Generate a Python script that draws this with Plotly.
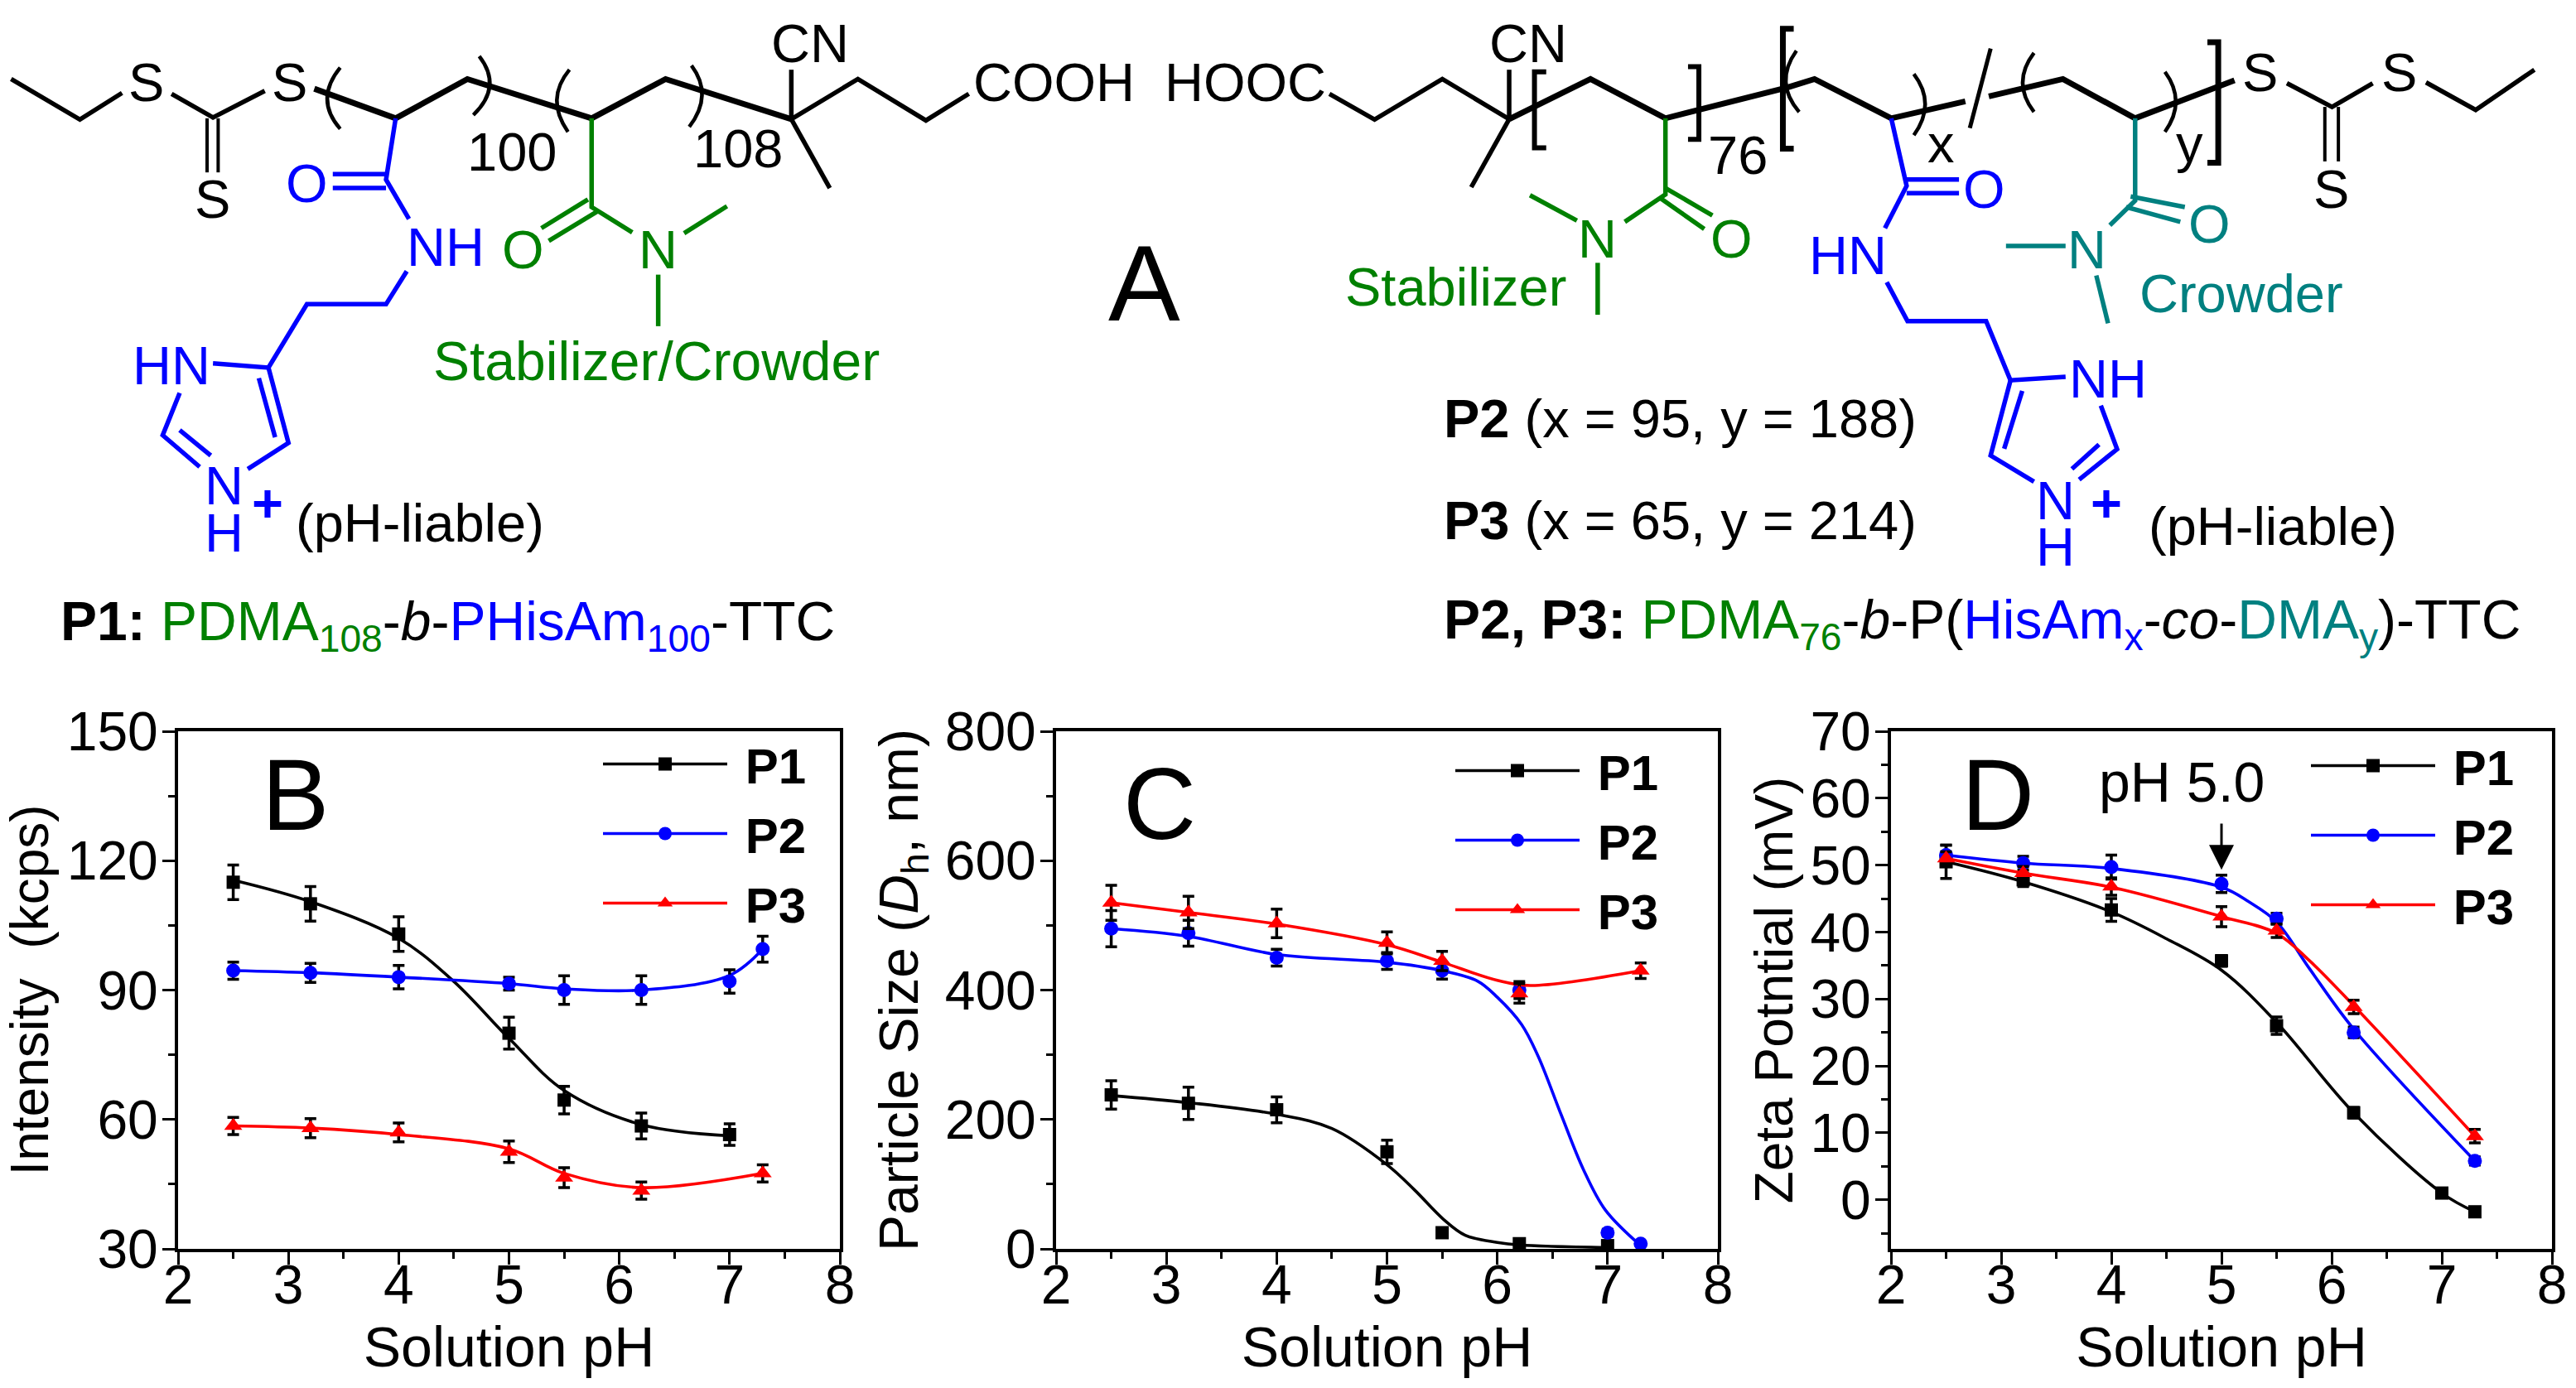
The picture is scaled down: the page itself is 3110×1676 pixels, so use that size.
import plotly.graph_objects as go

W, H = 3110, 1676
FONT = "Liberation Sans"
BLACK, BLUE, RED, GREEN, TEAL = "#000000", "#0000ff", "#ff0000", "#008000", "#008080"

# ---------- panel B: intensity ----------
b_p1_ph = [2.5, 3.2, 4, 5, 5.5, 6.2, 7]
b_p1_val = [115, 110, 103, 80, 64.5, 58.5, 56.5]
b_p1_err = [4, 4, 4, 3.7, 3.2, 3, 2.5]
b_p1_fit_ph = [2.5, 3.2, 4, 4.5, 5, 5.5, 6.2, 7]
b_p1_fit = [115.5, 110.5, 102, 92, 78.8, 66.7, 58.8, 56.2]
b_p2_ph = [2.5, 3.2, 4, 5, 5.5, 6.2, 7, 7.3]
b_p2_val = [94.5, 94, 93, 91.5, 90, 90, 92, 99.5]
b_p2_err = [2, 2.2, 2.7, 1.5, 3.3, 3.3, 2.7, 3]
b_p2_fit = [94.5, 94, 93, 91.5, 90.3, 90, 93.4, 99.5]
b_p3_ph = [2.5, 3.2, 4, 5, 5.5, 6.2, 7.3]
b_p3_val = [58.5, 58, 57, 52.5, 46.5, 43.5, 47.5]
b_p3_err = [2, 2.2, 2.2, 2.5, 2.3, 2, 2]
b_p3_fit_ph = [2.5, 3.2, 4, 5, 5.5, 6.2, 7.3]
b_p3_fit = [58.5, 58, 56.5, 53.2, 47.5, 44.2, 47.5]

# ---------- panel C: particle size ----------
c_p1_ph = [2.5, 3.2, 4, 5, 5.5, 6.2, 7]
c_p1_val = [238, 225, 215, 150, 25, 8, 5]
c_p1_err = [22, 25, 20, 18, 5, 3, 3]
c_p1_fit_ph = [2.5, 3.2, 4, 4.5, 5, 5.25, 5.51, 5.71, 6, 6.2, 7]
c_p1_fit = [237, 226, 208, 186, 130, 91, 46, 21, 10, 6, 2]
c_p2_ph = [2.5, 3.2, 4, 5, 5.5, 6.2, 7, 7.3]
c_p2_val = [495, 488, 450, 445, 430, 400, 25, 8]
c_p2_err = [28, 20, 13, 13, 13, 13, 5, 3]
c_p2_fit_ph = [2.5, 3.2, 4, 5, 5.5, 5.82, 6, 6.22, 6.37, 6.58, 6.78, 6.98, 7.3]
c_p2_fit = [495, 483, 455, 443, 430, 414, 389, 347, 298, 207, 123, 60, 5]
c_p3_ph = [2.5, 3.2, 4, 5, 5.5, 6.2, 7.3]
c_p3_val = [535, 520, 503, 473, 445, 395, 430]
c_p3_err = [27, 25, 22, 17, 15, 15, 12]
c_p3_fit_ph = [2.5, 3.2, 4, 5, 5.5, 6, 6.3, 7.3]
c_p3_fit = [535, 520, 502, 470, 443, 415, 407, 430]

# ---------- panel D: zeta potential ----------
d_p1_ph = [2.5, 3.2, 4, 5, 5.5, 6.2, 7, 7.3]
d_p1_val = [50.5, 47.8, 43.3, 35.7, 26, 13, 1, -1.8]
d_p1_err = [2.5, 1, 1.7, 0.8, 1.3, 0.8, 0.5, 0.5]
d_p1_fit_ph = [2.5, 3.2, 4, 4.5, 5, 5.5, 6.2, 7, 7.3]
d_p1_fit = [50.5, 47.5, 43, 39, 34.3, 26.5, 13, 1, -1.8]
d_p2_ph = [2.5, 3.2, 4, 5, 5.5, 6.2, 7.3]
d_p2_val = [51.5, 50.3, 49.7, 47.2, 42, 25, 5.8]
d_p2_err = [1.5, 1, 1.8, 1.3, 0.8, 0.8, 0.6]
d_p2_fit_ph = [2.5, 3.2, 4, 5, 5.25, 5.5, 5.8, 6.2, 7.3]
d_p2_fit = [51.5, 50.3, 49.5, 46.7, 44.5, 41.5, 34.5, 25.5, 5.8]
d_p3_ph = [2.5, 3.2, 4, 5, 5.5, 6.2, 7.3]
d_p3_val = [51, 48.8, 46.8, 42.3, 40.2, 28.8, 9.5]
d_p3_err = [1, 1, 1.3, 1.5, 1, 1, 1]
d_p3_fit_ph = [2.5, 3.2, 4, 5, 5.5, 5.8, 6.2, 7.3]
d_p3_fit = [51, 48.8, 46.7, 42.3, 39.8, 35.7, 29, 9.5]

tick_ph = [2, 3, 4, 5, 6, 7, 8]
series_names = ["P1", "P2", "P3"]
symbols = ["square", "circle", "triangle-up"]
sizes = [16, 17, 19]
colors = [BLACK, BLUE, RED]


def px(x, y):
    return x / W, 1 - y / H


# Panel rectangles in the picture (left, right, top, bottom)
RECTS = {"": (215, 1014), "2": (1275, 2074), "3": (2283, 3081)}
TOP, BOTTOM = 883, 1508

panels = [
    dict(ax="", legend="legend", legend_x=723, legend_top=877,
         series=[(b_p1_ph, b_p1_val, b_p1_err, b_p1_fit_ph, b_p1_fit),
                 (b_p2_ph, b_p2_val, b_p2_err, b_p2_ph, b_p2_fit),
                 (b_p3_ph, b_p3_val, b_p3_err, b_p3_fit_ph, b_p3_fit)]),
    dict(ax="2", legend="legend2", legend_x=1752, legend_top=885,
         series=[(c_p1_ph, c_p1_val, c_p1_err, c_p1_fit_ph, c_p1_fit),
                 (c_p2_ph, c_p2_val, c_p2_err, c_p2_fit_ph, c_p2_fit),
                 (c_p3_ph, c_p3_val, c_p3_err, c_p3_fit_ph, c_p3_fit)]),
    dict(ax="3", legend="legend3", legend_x=2785, legend_top=879,
         series=[(d_p1_ph, d_p1_val, d_p1_err, d_p1_fit_ph, d_p1_fit),
                 (d_p2_ph, d_p2_val, d_p2_err, d_p2_fit_ph, d_p2_fit),
                 (d_p3_ph, d_p3_val, d_p3_err, d_p3_fit_ph, d_p3_fit)]),
]

fig = go.Figure()
for p in panels:
    xa, ya = "x" + p["ax"], "y" + p["ax"]
    for i, (ph, val, err, fph, fit) in enumerate(p["series"]):
        name, col, sym, sz = series_names[i], colors[i], symbols[i], sizes[i]
        group = f"{p['legend']}-{name}"
        fig.add_trace(go.Scatter(
            x=fph, y=fit, mode="lines", xaxis=xa, yaxis=ya,
            line=dict(color=col, width=3.6, shape="spline", smoothing=1),
            legendgroup=group, showlegend=False, hoverinfo="skip"))
        fig.add_trace(go.Scatter(
            x=ph, y=val, mode="markers", xaxis=xa, yaxis=ya, name=name,
            marker=dict(color=col, symbol=sym, size=sz),
            error_y=dict(type="data", array=err, visible=True, color=BLACK,
                         thickness=3.5, width=7),
            legendgroup=group, showlegend=False))
        # legend key (line + marker)
        fig.add_trace(go.Scatter(
            x=[None], y=[None], mode="lines+markers", xaxis=xa, yaxis=ya,
            name=f"\u00a0<b>{name}</b>", legend=p["legend"], legendgroup=group,
            line=dict(color=col, width=3.6),
            marker=dict(color=col, symbol=sym, size=sz), showlegend=True))


def axis_common():
    return dict(showline=True, linecolor=BLACK, linewidth=4, mirror=True, automargin=False,
                ticks="outside", ticklen=15, tickwidth=3, tickcolor=BLACK,
                showgrid=False, zeroline=False,
                tickfont=dict(family=FONT, size=66, color=BLACK))


layout = dict(template="none", width=W, height=H, margin=dict(l=0, r=0, t=0, b=0), autosize=False,
              paper_bgcolor="#ffffff", plot_bgcolor="#ffffff",
              font=dict(family=FONT, color=BLACK), hovermode=False)

y_specs = {
    "": dict(range=[30, 150], tickvals=[30, 60, 90, 120, 150], minor=15,
             title="Intensity  (kcps)", standoff=8, size=64),
    "2": dict(range=[0, 800], tickvals=[0, 200, 400, 600, 800], minor=100,
              title="Particle Size (<i>D</i><sub>h</sub>, nm)", standoff=12, size=66),
    "3": dict(range=[-7.34, 70], tickvals=[0, 10, 20, 30, 40, 50, 60, 70], minor=5,
              title="Zeta Potntial (mV)", standoff=1, size=64),
}
for k, (l, r) in RECTS.items():
    spec = y_specs[k]
    xname, yname = "xaxis" + k, "yaxis" + k
    layout[xname] = dict(axis_common(), domain=[l / W, r / W], range=[2, 8],
                         tickvals=tick_ph, anchor="y" + k, ticklabelstandoff=-32,
                         minor=dict(ticks="outside", ticklen=8, tickwidth=3,
                                    tickcolor=BLACK, dtick=0.5, tick0=2),
                         title=dict(text="Solution pH", standoff=9,
                                    font=dict(family=FONT, size=68, color=BLACK)))
    layout[yname] = dict(axis_common(), domain=[1 - BOTTOM / H, 1 - TOP / H],
                         range=spec["range"], tickvals=spec["tickvals"], anchor="x" + k,
                         ticklabelstandoff=-8,
                         minor=dict(ticks="outside", ticklen=8, tickwidth=3,
                                    tickcolor=BLACK, dtick=spec["minor"], tick0=0),
                         title=dict(text=spec["title"], standoff=spec["standoff"],
                                    font=dict(family=FONT, size=spec["size"], color=BLACK)))

for p in panels:
    lx, ly = px(p["legend_x"], p["legend_top"])
    layout[p["legend"]] = dict(x=lx, y=ly, xanchor="left", yanchor="top",
                               bgcolor="rgba(0,0,0,0)", borderwidth=0,
                               itemwidth=150, tracegroupgap=3, itemclick=False,
                               itemdoubleclick=False,
                               font=dict(family=FONT, size=60, color=BLACK))

# ---------- chemical structure drawing (picture pixels) ----------
def z1(x, y):
    return x / 1.12, y / 1.96


def z2(x, y):
    return 1400 + x / 0.917, y / 1.96


shapes = []


def bond(conv, pts, color=BLACK, width=5.5):
    d = ""
    for i, (x, y) in enumerate(pts):
        fx, fy = px(*conv(x, y))
        d += f"{'M' if i == 0 else 'L'} {fx:.5f} {fy:.5f} "
    shapes.append(dict(type="path", path=d, xref="paper", yref="paper",
                       line=dict(color=color, width=width), layer="above"))


def arc(conv, a, c, b, color=BLACK, width=4.5):
    pts = [px(*conv(*q)) for q in (a, c, b)]
    d = f"M {pts[0][0]:.5f} {pts[0][1]:.5f} Q {pts[1][0]:.5f} {pts[1][1]:.5f} {pts[2][0]:.5f} {pts[2][1]:.5f}"
    shapes.append(dict(type="path", path=d, xref="paper", yref="paper",
                       line=dict(color=color, width=width), layer="above"))


# left structure
bond(z1, [(15, 187), (108, 283), (165, 220)])
bond(z1, [(232, 222), (288, 278), (358, 215)])
bond(z1, [(280, 280), (280, 408)], width=4)
bond(z1, [(295, 280), (295, 408)], width=4)
bond(z1, [(425, 210), (535, 280), (632, 187), (800, 280), (900, 187), (1070, 282)], width=7)
bond(z1, [(1070, 282), (1160, 187), (1252, 285), (1310, 222)])
bond(z1, [(1070, 282), (1070, 165)])
bond(z1, [(1070, 282), (1122, 445)])
arc(z1, (460, 160), (425, 235), (460, 305))
arc(z1, (648, 133), (680, 205), (640, 272))
arc(z1, (770, 165), (737, 235), (768, 312))
arc(z1, (935, 155), (965, 225), (932, 300))
bond(z1, [(535, 280), (522, 425), (553, 518)], BLUE)
bond(z1, [(450, 412), (522, 412)], BLUE)
bond(z1, [(450, 445), (522, 445)], BLUE)
bond(z1, [(550, 642), (522, 720), (415, 720), (363, 870), (288, 860)], BLUE)
bond(z1, [(363, 870), (390, 1048), (335, 1110)], BLUE)
bond(z1, [(350, 895), (372, 1035)], BLUE)
bond(z1, [(243, 930), (220, 1030), (270, 1105)], BLUE)
bond(z1, [(243, 1018), (285, 1078)], BLUE)
bond(z1, [(800, 280), (800, 490), (855, 550)], GREEN)
bond(z1, [(795, 472), (732, 540)], GREEN)
bond(z1, [(808, 500), (742, 570)], GREEN)
bond(z1, [(925, 552), (983, 488)], GREEN)
bond(z1, [(890, 650), (890, 772)], GREEN)

# right structure
bond(z2, [(188, 222), (238, 283), (313, 187), (387, 282)])
bond(z2, [(387, 282), (477, 187), (560, 280), (695, 207), (725, 187), (810, 280), (892, 240)], width=7)
bond(z2, [(918, 228), (1000, 187), (1080, 280), (1190, 190)], width=7)
bond(z2, [(1248, 197), (1298, 253), (1343, 197)])
bond(z2, [(1402, 195), (1457, 260), (1522, 165)])
bond(z2, [(1290, 253), (1290, 382)], width=4)
bond(z2, [(1305, 253), (1305, 382)], width=4)
bond(z2, [(387, 282), (387, 165)])
bond(z2, [(387, 282), (345, 443)])
bond(z2, [(428, 170), (415, 170), (415, 350), (428, 350)], width=6)
bond(z2, [(585, 158), (597, 158), (597, 330), (585, 330)], width=6)
bond(z2, [(702, 68), (690, 68), (690, 352), (702, 352)], width=7)
bond(z2, [(1160, 100), (1172, 100), (1172, 385), (1160, 385)], width=7)
bond(z2, [(920, 115), (897, 303)], width=5)
arc(z2, (705, 120), (680, 195), (708, 265))
arc(z2, (835, 175), (860, 245), (835, 320))
arc(z2, (968, 125), (943, 195), (968, 265))
arc(z2, (1113, 170), (1137, 240), (1113, 312))
bond(z2, [(560, 280), (560, 460), (515, 525)], GREEN)
bond(z2, [(560, 445), (612, 510)], GREEN)
bond(z2, [(555, 470), (603, 542)], GREEN)
bond(z2, [(462, 522), (410, 462)], GREEN)
bond(z2, [(485, 622), (485, 745)], GREEN)
bond(z2, [(810, 280), (827, 440), (803, 540)], BLUE)
bond(z2, [(827, 425), (885, 425)], BLUE)
bond(z2, [(827, 457), (885, 457)], BLUE)
bond(z2, [(805, 668), (828, 760), (915, 760), (942, 900), (1003, 892)], BLUE)
bond(z2, [(942, 900), (920, 1078), (968, 1140)], BLUE)
bond(z2, [(955, 925), (935, 1062)], BLUE)
bond(z2, [(1042, 960), (1060, 1063), (1018, 1135)], BLUE)
bond(z2, [(1040, 1052), (1010, 1110)], BLUE)
bond(z2, [(1080, 280), (1080, 475), (1052, 533)], TEAL)
bond(z2, [(1075, 465), (1135, 490)], TEAL)
bond(z2, [(1070, 490), (1130, 525)], TEAL)
bond(z2, [(1003, 582), (937, 582)], TEAL)
bond(z2, [(1037, 652), (1050, 765)], TEAL)

layout["shapes"] = shapes

annotations = []


def label(conv, x, y, text, color=BLACK, size=65, anchor="center"):
    fx, fy = px(*conv(x, y))
    annotations.append(dict(x=fx, y=fy, xref="paper", yref="paper", text=text,
                            showarrow=False, xanchor=anchor, yanchor="middle",
                            font=dict(family=FONT, size=size, color=color)))


ident = lambda x, y: (x, y)
for x, y, t in [(198, 195, "S"), (392, 195, "S"), (287, 472, "S"), (1095, 103, "CN"),
                (1425, 195, "COOH"), (692, 360, "100"), (998, 352, "108")]:
    label(z1, x, y, t)
for x, y, t in [(415, 435, "O"), (602, 585, "NH"), (232, 865, "HN"), (303, 1150, "N"), (303, 1262, "H")]:
    label(z1, x, y, t, BLUE)
label(z1, 362, 1190, "<b>+</b>", BLUE)
label(z1, 568, 1238, "(pH-liable)")
for x, y, t in [(707, 590, "O"), (890, 590, "N")]:
    label(z1, x, y, t, GREEN)
label(z1, 888, 855, "Stabilizer/Crowder", GREEN, size=66)

for x, y, t in [(95, 195, "HOOC"), (408, 103, "CN"), (1218, 172, "S"), (1372, 172, "S"),
                (1297, 447, "S"), (640, 368, "76"), (865, 340, "x"), (1140, 340, "y")]:
    label(z2, x, y, t)
for x, y, t in [(633, 565, "O"), (485, 565, "N"), (328, 680, "Stabilizer")]:
    label(z2, x, y, t, GREEN)
for x, y, t in [(913, 447, "O"), (762, 605, "HN"), (1050, 897, "NH"), (992, 1185, "N"), (992, 1295, "H")]:
    label(z2, x, y, t, BLUE)
label(z2, 1048, 1190, "<b>+</b>", BLUE)
for x, y, t in [(1162, 530, "O"), (1027, 590, "N"), (1198, 695, "Crowder")]:
    label(z2, x, y, t, TEAL)
label(z2, 1232, 1245, "(pH-liable)")

label(ident, 1381, 342, "A", size=130)
label(ident, 1741, 505, "<b>P2</b> (x = 95, y = 188)", anchor="left")
label(ident, 1741, 628, "<b>P3</b> (x = 65, y = 214)", anchor="left")
g = f'<span style="color:{GREEN}">'
bl = f'<span style="color:{BLUE}">'
te = f'<span style="color:{TEAL}">'
label(ident, 71, 755,
      f"<b>P1:</b> {g}PDMA<sub>108</sub></span>-<i>b</i>-{bl}PHisAm<sub>100</sub></span>-TTC",
      anchor="left", size=66)
label(ident, 1741, 753,
      f"<b>P2, P3:</b> {g}PDMA<sub>76</sub></span>-<i>b</i>-P({bl}HisAm<sub>x</sub></span>-<i>co</i>-{te}DMA<sub>y</sub></span>)-TTC",
      anchor="left", size=66)

# panel letters
label(ident, 356, 960, "B", size=122)
label(ident, 1400, 971, "C", size=122)
label(ident, 2412, 960, "D", size=122)

# pH 5.0 note and arrow in panel D
annotations.append(dict(x=5, y=49.3, xref="x3", yref="y3", ax=5, ay=56.4, axref="x3", ayref="y3",
                        text="", showarrow=True, arrowhead=2, arrowsize=2, arrowwidth=3,
                        arrowcolor=BLACK))
annotations.append(dict(x=4.64, y=62.5, xref="x3", yref="y3", text="pH 5.0", showarrow=False,
                        font=dict(family=FONT, size=68, color=BLACK)))
layout["annotations"] = annotations

fig.update_layout(**layout)
fig.write_html("out.html", config=dict(displayModeBar=False),
               post_script="document.body.style.margin='0';document.body.style.overflow='hidden';")
